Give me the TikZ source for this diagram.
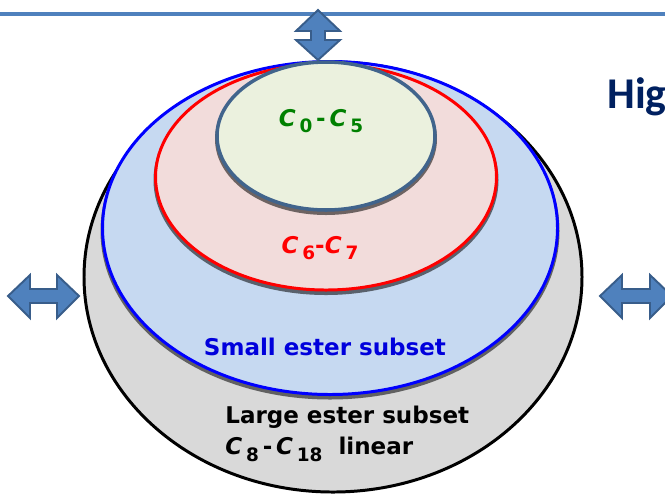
\documentclass[tikz,border=0pt]{standalone}
\usepackage{fontspec}
\setsansfont{DejaVu Sans}
\newfontfamily\headfont{Carlito}
\usetikzlibrary{shapes.geometric,positioning}

\definecolor{arrowfill}{RGB}{79,129,189}
\definecolor{arrowedge}{RGB}{56,93,138}
\definecolor{greyfill}{RGB}{217,217,217}
\definecolor{bluefill}{RGB}{198,217,241}
\definecolor{redfill}{RGB}{242,220,219}
\definecolor{greenfill}{RGB}{235,241,222}
\definecolor{greenedge}{RGB}{65,100,140}
\definecolor{textgreen}{RGB}{0,128,0}
\definecolor{textblue}{RGB}{0,0,220}
\definecolor{navy}{RGB}{0,32,96}
\newcommand\lowidx[1]{\,\raisebox{-.5ex}{\fontsize{10.5}{12}\selectfont#1}}

\begin{document}
\begin{tikzpicture}[x=0.02cm,y=-0.02cm,
  ring/.style={ellipse,inner sep=0pt,line width=1.7pt},
  halo/.style={ellipse,inner sep=0pt,fill=black,opacity=.55},
  lbl/.style={font=\sffamily\bfseries\fontsize{13.1}{17.6}\selectfont,inner sep=0pt},
  twoway/.style={fill=arrowfill,draw=arrowedge,line width=1.1pt,line join=miter}]
\useasboundingbox (0,0) rectangle (665,495);
\clip (0,0) rectangle (665,495);
% nested subsets
\node[ring,fill=greyfill,draw=black,minimum width=498*0.02cm,minimum height=430*0.02cm] (large) at (333,277) {};
\node[halo,minimum width=459*0.02cm,minimum height=337*0.02cm] (smallhalo) at (330,231) {};
\node[ring,fill=bluefill,draw=blue,minimum width=455*0.02cm,minimum height=333*0.02cm] (small) at (330,228) {};
\node[halo,minimum width=345*0.02cm,minimum height=230*0.02cm] (midhalo) at (326,180) {};
\node[ring,fill=redfill,draw=red,minimum width=341*0.02cm,minimum height=226*0.02cm] (mid) at (326,177) {};
\node[halo,minimum width=222*0.02cm,minimum height=152*0.02cm] (lowhalo) at (326,139) {};
\node[ring,fill=greenfill,draw=greenedge,line width=2pt,minimum width=218*0.02cm,minimum height=148*0.02cm] (low) at (326,136) {};
% top rule and arrows
\draw[arrowfill,line width=2.8pt] (0,14) -- (665,14);
\draw[twoway] (318,10) -- (340,31) -- (325,31) -- (325,40) -- (340,40) -- (318,60)
  -- (296,40) -- (311,40) -- (311,31) -- (296,31) -- cycle;
\draw[twoway] (8,296) -- (30,275) -- (30,289) -- (57,289) -- (57,275) -- (79,296)
  -- (57,318) -- (57,303) -- (30,303) -- (30,318) -- cycle;
\draw[twoway] (600,296) -- (622,275) -- (622,289) -- (650,289) -- (650,275) -- (672,296)
  -- (650,318) -- (650,303) -- (622,303) -- (622,318) -- cycle;
% labels
\node[lbl,text=textgreen] (lowtxt) at (321,121) {\textit{C}\lowidx{0}\,-\,\textit{C}\lowidx{5}};
\node[lbl,text=red] (midtxt) at (320,248) {\textit{C}\lowidx{6}-\textit{C}\lowidx{7}};
\node[lbl,text=textblue] (smalltxt) at (325,347) {Small ester subset};
\node[lbl,align=left,anchor=north west] (largetxt) at (225,406)
  {Large ester subset\\\textit{C}\lowidx{8}\,-\,\textit{C}\lowidx{18}\ \ linear};
\node[anchor=base west,inner sep=0pt,text=navy,font=\headfont\bfseries\fontsize{25}{27}\selectfont] (head) at (607,108) {Hig};
\end{tikzpicture}
\end{document}
